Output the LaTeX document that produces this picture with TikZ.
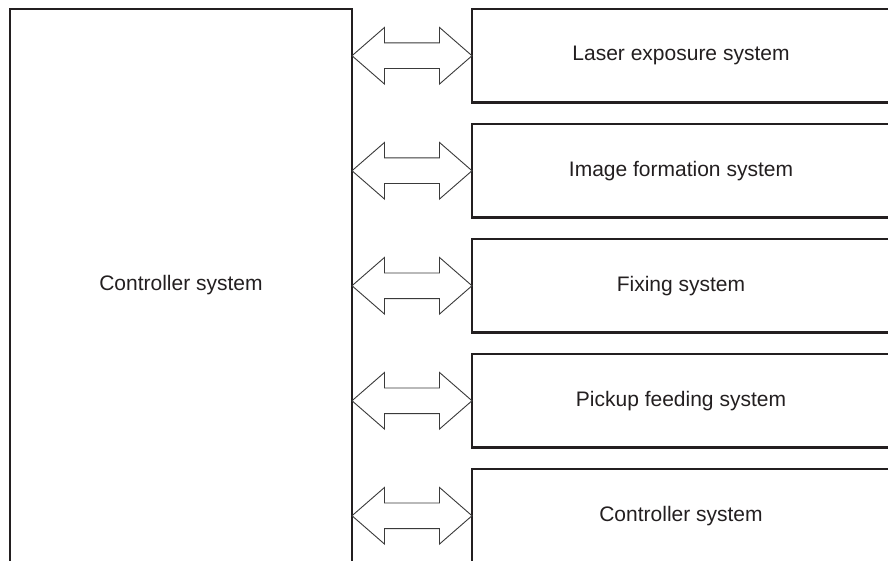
\documentclass[tikz,border=0pt]{standalone}
\usepackage{fontspec}
\setmainfont{Liberation Sans}
\usetikzlibrary{calc}
\definecolor{ink}{HTML}{231F20}
\definecolor{arrink}{HTML}{3A3A3A}
\tikzset{
  sysbox/.style={draw=ink, line width=2.4pt, rectangle, outer sep=0pt, inner sep=0pt, anchor=north west},
  systext/.style={text=ink, font=\fontsize{21}{25}\selectfont, inner sep=0pt},
  blockarrow/.style={draw=arrink, line width=0.9pt, fill=white, line join=miter}
}
\begin{document}
\begin{tikzpicture}[x=1pt,y=-1pt]
\useasboundingbox (0,0) rectangle (888,561);
\clip (0,0) rectangle (888,561);
\fill[white] (0,0) rectangle (888,561);
% left controller box (open at bottom)
\node[sysbox, minimum width=342pt, minimum height=600pt] (ctrl) at (10,9) {};
\node[systext] (ctrltxt) at (181,285) {Controller system};
% right boxes
\foreach \i/\t in {1/Laser exposure system,2/Image formation system,3/Fixing system,4/Pickup feeding system,5/Controller system}{
  \node[sysbox, minimum width=418pt, minimum height=93.5pt] (b\i) at (472,{9+115*(\i-1)}) {};
  \node[systext] (t\i) at ($(b\i.center)$) {\t};
  \coordinate (L\i) at (ctrl.east |- b\i.west);
  \coordinate (R\i) at (b\i.west);
  \draw[blockarrow] (L\i) -- ++(32.5,-28.3) -- ++(0,15.5) -- ([shift={(-32.5,-12.8)}]R\i) -- ++(0,-15.5) -- (R\i)
     -- ++(-32.5,28.3) -- ++(0,-15.5) -- ([shift={(32.5,12.8)}]L\i) -- ++(0,15.5) -- cycle;
}
\end{tikzpicture}
\end{document}
